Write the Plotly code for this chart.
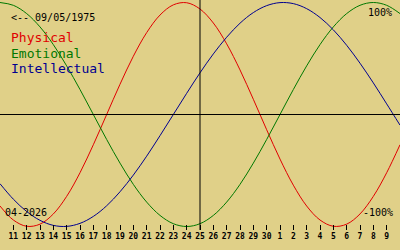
import plotly.graph_objects as go

# Day positions (10 = Apr 10 ... 30 = Apr 30, 31..40 = May 1..10)
days = list(range(10, 41))

physical = [-0.817, -0.942, -0.998, -0.979, -0.888, -0.731, -0.520, -0.270, 0.000,
            0.270, 0.520, 0.731, 0.888, 0.979, 0.998, 0.942, 0.817, 0.631, 0.398,
            0.136, -0.136, -0.398, -0.631, -0.817, -0.942, -0.998, -0.979, -0.888,
            -0.731, -0.520, -0.270]
emotional = [1.000, 0.975, 0.901, 0.782, 0.624, 0.434, 0.223, 0.000, -0.223,
             -0.434, -0.624, -0.782, -0.901, -0.975, -1.000, -0.975, -0.901, -0.782,
             -0.624, -0.434, -0.223, 0.000, 0.223, 0.434, 0.624, 0.782, 0.901,
             0.975, 1.000, 0.975, 0.901]
intellectual = [-0.618, -0.756, -0.866, -0.945, -0.990, -0.999, -0.972, -0.910,
                -0.815, -0.690, -0.541, -0.372, -0.189, 0.000, 0.189, 0.372, 0.541,
                0.690, 0.815, 0.910, 0.972, 0.999, 0.990, 0.945, 0.866, 0.756, 0.618,
                0.458, 0.282, 0.095, -0.095]

tick_vals = list(range(11, 40))
tick_text = [str(d) for d in range(11, 31)] + [str(d) for d in range(1, 10)]

series_names = ["Physical", "Emotional", "Intellectual"]
series_colors = ["#e00000", "#007800", "#000090"]

BG = "#e0d088"
FONT = "DejaVu Sans Mono"

fig = go.Figure()
for name, vals, col in zip(series_names, [physical, emotional, intellectual], series_colors):
    fig.add_trace(go.Scatter(x=days, y=vals, mode="lines", name=name,
                             line=dict(color=col, width=1, shape="spline"),
                             hoverinfo="skip"))

# zero line and "today" line
fig.add_shape(type="line", xref="paper", yref="y", x0=0, x1=1, y0=0, y1=0,
              line=dict(color="black", width=1))
fig.add_shape(type="line", xref="x", yref="paper", x0=25, x1=25, y0=0, y1=1,
              line=dict(color="black", width=1))

H = 230.0
def py(p):
    return 1 - p / H

def label(text, px, pyy, size, color, anchor="left"):
    fig.add_annotation(text=text, x=px / 400, y=py(pyy), xref="paper", yref="paper",
                       xanchor=anchor, yanchor="middle", showarrow=False,
                       font=dict(family=FONT, size=size, color=color))

label("&lt;-- 09/05/1975", 9, 17, 10, "black")
for i, (name, col) in enumerate(zip(series_names, series_colors)):
    label(name, 9, 38 + 15 * i, 13, col)
label("04-2026", 3, 212.5, 10, "black")
label("100%", 394, 12, 10, "black", "right")
label("-100%", 395, 212, 10, "black", "right")

fig.update_layout(
    width=400, height=250,
    margin=dict(l=0, r=0, t=0, b=20),
    paper_bgcolor=BG, plot_bgcolor=BG,
    showlegend=False,
    xaxis=dict(range=[10, 40], tickvals=tick_vals, ticktext=tick_text,
               ticks="inside", ticklen=5, tickwidth=1, tickcolor="black",
               showgrid=False, zeroline=False, showline=False,
               tickfont=dict(family=FONT, size=8, color="black", weight="bold")),
    yaxis=dict(range=[(114.5 - 230) / 112, 114.5 / 112], visible=False,
               showgrid=False, zeroline=False),
)

fig.write_html("out.html")
